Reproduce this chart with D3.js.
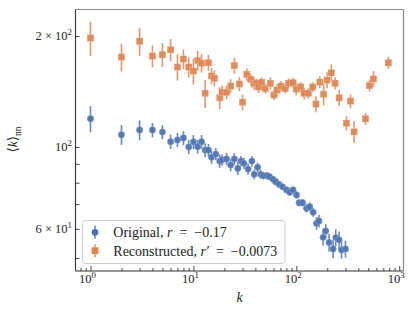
<!DOCTYPE html>
<html><head><meta charset="utf-8">
<script src="https://cdn.jsdelivr.net/npm/d3@7"></script>
<style>
html,body{margin:0;padding:0;background:#fff;}
svg{display:block;font-family:"Liberation Serif","DejaVu Serif",serif;}
</style></head>
<body><svg id="chart" width="416" height="315"></svg>
<script>
// ---- data ----
const blueK = [1,2,3,4,5,6,7,8,9,10,11,12,13,14,15,16.5,18,19,21,23,25,27,29,31,34,37,39,42,45,48,52,55,59.5,63,68,73.5,80.4,86.5,93,100.5,106.5,115,125.6,135,145.6,157,166,182,193,208,227.6,241.7,260.6,275,300.4];
const blueV = [119.3,108.0,111.2,111.2,109.8,103.4,104.5,105.8,100.0,103.2,100.2,103.4,98.1,98.1,93.8,95.7,91.6,92.2,92.8,89.4,92.8,87.5,91.6,90.3,87.1,91.6,84.3,88.1,84.3,83.6,83.6,83.1,81.7,80.5,79.2,78.0,76.5,75.4,76.5,74.1,70.6,70.6,68.2,68.9,66.5,62.1,63.0,56.9,59.2,55.1,52.9,56.8,56.0,52.6,52.9];
const blueErr = [9.7,6.7,6.9,4.9,4.8,4.6,4.6,4.6,4.4,4.5,4.2,4.4,4.3,3.8,3.8,3.6,3.8,3.2,3.5,3.5,3.4,3.6,3.0,3.2,3.0,3.0,2.6,2.6,2.4,2.0,2.0,1.8,1.8,1.6,1.6,1.6,1.5,1.6,1.5,1.6,1.6,1.6,1.8,1.8,1.8,2.4,2.4,2.8,2.6,3.0,3.0,3.0,3.0,2.8,2.8];

const orangeK = [1,2,3,4,5,6,7,8,9,10,11,12,13,14,15,16,18,19,21,23,25,28,30,33,36,39,41,43,46,50,56,60.5,65,71,78,84,93,100,110,119,131,144,155,169,184,199,219,238,261,307,336,364,470,514,562,785];
const orangeV = [197.5,175.4,193.5,176.5,178,183.6,164.8,173.2,164.8,160.7,171.6,168.7,139.8,169.3,155.8,153.6,136.0,140.7,140.7,146.3,166.3,148.2,132.2,157.3,152.6,148.2,148.8,145.5,149.8,144.1,148.8,138.4,142.7,146.3,144.1,148.8,149.5,143.5,145.5,139.8,139.8,145.5,130.8,150,139,151.9,159,148.8,136,116,133.2,110,119.3,146.8,153,169.3];
const orangeErr = [21,15.3,17,12,13.3,12.6,13.4,10.8,10.3,13,10.7,9.5,12.2,8.5,7.8,7.7,9.3,6.1,6.1,6.4,8.3,6.5,6.6,5.9,5.7,5.5,4.6,5.4,4.7,4.5,5.6,4.3,5.3,4.6,4.5,4.6,4.7,5.4,4.5,5.2,4.4,4.5,6.5,5.6,9.5,7.6,8.5,5.6,6.8,5.1,5.8,7.5,4.5,5.5,7.6,6.3];

const seriesNames = ["Original", "Reconstructed"];
const seriesSym = ["r", "r\u2032"];
const seriesR = ["\u22120.17", "\u22120.0073"];
const xMajorTicks = [1, 10, 100, 1000];
const xMajorExp = ["0", "1", "2", "3"];
const yLabeledTicks = [200, 100, 60];
const yLabelMant = ["2 \u00d7 ", "", "6 \u00d7 "];
const yLabelExp = ["2", "2", "1"];
const yMinorTicks = [50, 70, 80, 90];

const BLUE = "#4c72b0", ORANGE = "#dd8452";

// ---- scales ----
const L = 75.5, R = 403.5, T = 9.5, B = 271;
const x = d3.scaleLog().domain([0.715, 1100]).range([L, R]);
const y = d3.scaleLog().domain([46.1, 236]).range([B, T]);

const svg = d3.select("#chart");

// minor x ticks
const xMinor = [];
[0.1, 1, 10, 100, 1000].forEach(d => { for (let m = 2; m <= 9; m++) { const v = d * m; if (v >= x.domain()[0] && v <= x.domain()[1]) xMinor.push(v); } });

const gx = svg.append("g").attr("transform", `translate(0,${B})`);
gx.append("g").call(d3.axisBottom(x).tickValues(xMinor).tickSize(-3).tickSizeOuter(0).tickFormat(""));
gx.append("g").call(d3.axisBottom(x).tickValues(xMajorTicks).tickSize(-5).tickSizeOuter(0).tickFormat(""));
gx.selectAll(".domain").remove();
gx.selectAll(".tick line").attr("stroke", "#333").attr("stroke-width", 0.9);

const gy = svg.append("g").attr("transform", `translate(${L},0)`);
gy.append("g").call(d3.axisLeft(y).tickValues(yLabeledTicks.concat(yMinorTicks)).tickSize(-4).tickSizeOuter(0).tickFormat(""));
gy.selectAll(".domain").remove();
gy.selectAll(".tick line").attr("stroke", "#333").attr("stroke-width", 0.9);

// tick labels
xMajorTicks.forEach((v, i) => {
  const t = svg.append("text").attr("x", x(v) - 3).attr("y", B + 11.5).attr("text-anchor", "middle")
    .attr("font-size", 12.5).attr("fill", "#222");
  t.append("tspan").text("10");
  t.append("tspan").attr("dy", -5).attr("font-size", 8.8).text(xMajorExp[i]);
});
yLabeledTicks.forEach((v, i) => {
  const t = svg.append("text").attr("x", 72).attr("y", y(v) + 4).attr("text-anchor", "end")
    .attr("font-size", 12.5).attr("fill", "#222");
  t.append("tspan").text(yLabelMant[i] + "10");
  t.append("tspan").attr("dy", -5).attr("font-size", 8.8).text(yLabelExp[i]);
});

// spines
svg.append("line").attr("x1", L).attr("x2", R).attr("y1", T).attr("y2", T).attr("stroke", "#888").attr("stroke-width", 1.2);
svg.append("line").attr("x1", R).attr("x2", R).attr("y1", T).attr("y2", B).attr("stroke", "#888").attr("stroke-width", 1.2);
svg.append("line").attr("x1", L).attr("x2", L).attr("y1", T).attr("y2", B).attr("stroke", "#333").attr("stroke-width", 1.1);
svg.append("line").attr("x1", L).attr("x2", R).attr("y1", B).attr("y2", B).attr("stroke", "#333").attr("stroke-width", 1.1);

// axis labels
const xl = svg.append("text").attr("x", 239.5).attr("y", 301.5).attr("text-anchor", "middle").attr("font-size", 14).attr("fill", "#222");
xl.append("tspan").attr("font-style", "italic").text("k");
const yl = svg.append("text").attr("transform", "translate(17,139.5) rotate(-90)").attr("text-anchor", "middle").attr("font-size", 13.5).attr("fill", "#222");
yl.append("tspan").text("\u27e8");
yl.append("tspan").attr("font-style", "italic").text("k");
yl.append("tspan").text("\u27e9");
yl.append("tspan").attr("dy", 3.5).attr("font-size", 9.5).text("nn");

// data
function drawSeries(K, V, E, color, shape) {
  const g = svg.append("g");
  const data = K.map((k, i) => ({ k, v: V[i], e: E[i] }));
  g.selectAll("line.err").data(data).join("line").attr("class", "err")
    .attr("x1", d => x(d.k)).attr("x2", d => x(d.k))
    .attr("y1", d => y(d.v - d.e)).attr("y2", d => y(d.v + d.e))
    .attr("stroke", color).attr("stroke-width", 1.6).attr("stroke-opacity", 0.85);
  if (shape === "circle") {
    g.selectAll("circle").data(data).join("circle")
      .attr("cx", d => x(d.k)).attr("cy", d => y(d.v)).attr("r", 3.4)
      .attr("fill", color).attr("fill-opacity", 0.92).attr("stroke", "#fff").attr("stroke-opacity", 0.35).attr("stroke-width", 0.6);
  } else {
    const s = 6.8;
    g.selectAll("rect").data(data).join("rect")
      .attr("x", d => x(d.k) - s / 2).attr("y", d => y(d.v) - s / 2).attr("width", s).attr("height", s)
      .attr("fill", color).attr("fill-opacity", 0.92).attr("stroke", "#fff").attr("stroke-opacity", 0.35).attr("stroke-width", 0.6);
  }
}
drawSeries(orangeK, orangeV, orangeErr, ORANGE, "square");
drawSeries(blueK, blueV, blueErr, BLUE, "circle");

// legend
const lg = svg.append("g");
lg.append("rect").attr("x", 82.5).attr("y", 220.5).attr("width", 202.5).attr("height", 43).attr("rx", 3)
  .attr("fill", "#fff").attr("fill-opacity", 0.85).attr("stroke", "#ccc").attr("stroke-width", 1);
const legY = [232.3, 250.7];
const colors = [BLUE, ORANGE];
legY.forEach((ly, i) => {
  lg.append("line").attr("x1", 95).attr("x2", 95).attr("y1", ly - 6.5).attr("y2", ly + 6.5)
    .attr("stroke", colors[i]).attr("stroke-width", 1.6).attr("stroke-opacity", 0.85);
  if (i === 0) lg.append("circle").attr("cx", 95).attr("cy", ly).attr("r", 3.4).attr("fill", colors[i]);
  else lg.append("rect").attr("x", 95 - 3.4).attr("y", ly - 3.4).attr("width", 6.8).attr("height", 6.8).attr("fill", colors[i]);
  const t = lg.append("text").attr("x", 113.3).attr("y", ly + 4.8).attr("font-size", 14).attr("fill", "#222");
  t.append("tspan").text(seriesNames[i] + ", ");
  t.append("tspan").attr("font-style", "italic").text(seriesSym[i]);
  t.append("tspan").text("\u2002=\u2002" + seriesR[i]);
});
</script></body></html>
